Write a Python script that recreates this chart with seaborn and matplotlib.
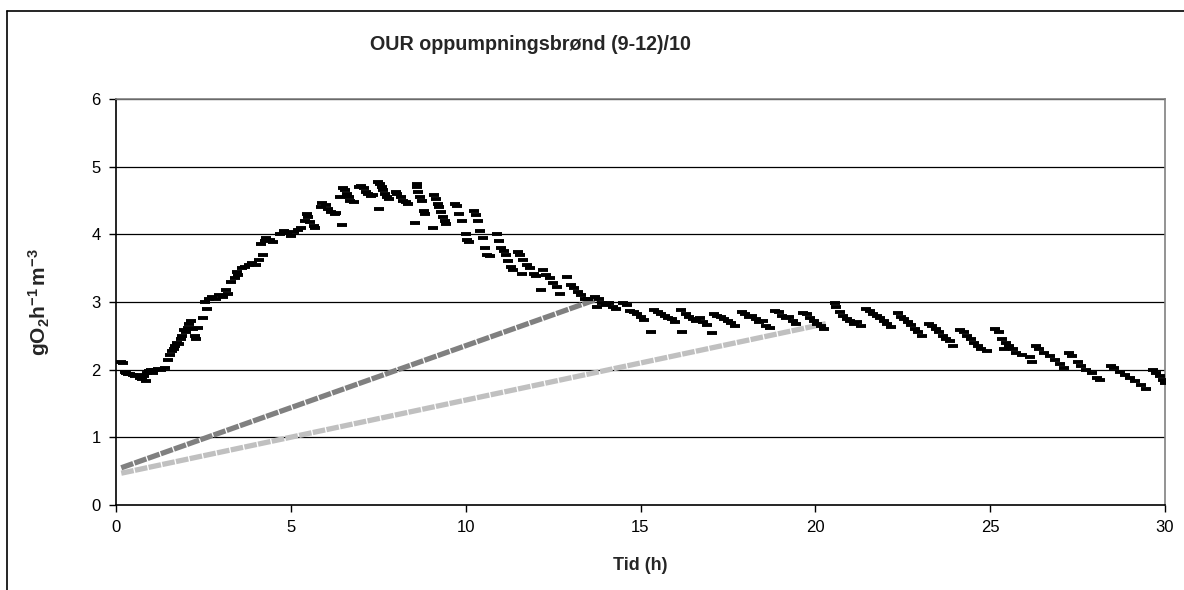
import matplotlib
matplotlib.use("Agg")
import matplotlib.pyplot as plt
from matplotlib.lines import Line2D
import seaborn as sns
import pandas as pd

# ---- data -------------------------------------------------------------
t_our = [0.15, 0.2,
         0.25, 0.3, 0.35, 0.4, 0.5, 0.55, 0.6, 0.7, 0.75, 0.8, 0.85, 0.9, 0.95, 1.0, 1.05, 1.1, 1.2, 1.3, 1.4,
         1.5, 1.55, 1.6, 1.65, 1.7, 1.75, 1.8,
         1.85, 1.9, 1.95, 2.0, 2.05, 2.1, 2.15, 2.2, 2.25, 2.3, 2.35,
         2.5, 2.6,
         2.55, 2.65, 2.75, 2.85, 2.95, 3.05, 3.15, 3.2,
         3.3, 3.4, 3.45, 3.5, 3.6, 3.7, 3.8, 3.9,
         4.0, 4.1, 4.2,
         4.15, 4.25, 4.3, 4.4, 4.5,
         4.7, 4.8, 4.9, 5.0, 5.1, 5.2,
         5.3, 5.4, 5.45, 5.5, 5.55, 5.65, 5.7,
         5.85, 5.9, 6.0, 6.05, 6.15, 6.25, 6.3, 6.45,
         6.4, 6.5, 6.55, 6.6, 6.65, 6.7, 6.8,
         6.95, 7.0, 7.1, 7.15, 7.2, 7.3, 7.35,
         7.5, 7.55, 7.6, 7.65, 7.7, 7.75, 7.8, 7.52,
         8.0, 8.05, 8.15, 8.2, 8.3, 8.35,
         8.6, 8.62, 8.65, 8.7, 8.75, 8.8, 8.85, 8.54,
         9.1, 9.15, 9.2, 9.25, 9.3, 9.35, 9.4, 9.45, 9.08,
         9.7, 9.75, 9.8, 9.9, 10.0, 10.05, 10.1,
         10.25, 10.3, 10.35, 10.4, 10.5, 10.55, 10.6, 10.7,
         10.9, 10.95, 11.0, 11.1, 11.15, 11.2, 11.3, 11.35,
         11.5, 11.55, 11.65, 11.75, 11.85, 11.95, 12.0, 11.6,
         12.2, 12.3, 12.4, 12.5, 12.6, 12.7, 12.15,
         12.9, 13.0, 13.1, 13.2, 13.3, 13.4, 13.5,
         13.7, 13.8, 13.9, 14.0, 14.1, 14.2, 14.3, 13.75,
         14.5, 14.6, 14.7, 14.8, 14.9, 15.0, 15.1,
         15.3, 15.4, 15.5, 15.6, 15.7, 15.8, 15.9, 16.0,
         16.2, 16.15, 16.3, 16.4, 16.5, 16.6, 16.7, 16.8, 16.9,
         17.05, 17.1, 17.2, 17.3, 17.4, 17.5, 17.6, 17.7,
         17.9, 18.0, 18.1, 18.2, 18.3, 18.4, 18.5, 18.6, 18.7,
         18.85, 18.95, 19.05, 19.15, 19.25, 19.35, 19.45,
         19.65, 19.75, 19.85, 19.95, 20.05, 20.15, 20.25,
         20.55, 20.6, 20.7, 20.8, 20.9, 21.0, 21.1, 21.2, 21.3,
         21.45, 21.55, 21.65, 21.75, 21.85, 21.95, 22.05, 22.15,
         22.35, 22.45, 22.55, 22.65, 22.75, 22.85, 22.95, 23.05,
         23.25, 23.35, 23.45, 23.55, 23.65, 23.75, 23.85, 23.95,
         24.15, 24.25, 24.35, 24.45, 24.55, 24.65, 24.75, 24.9,
         25.15, 25.25, 25.35, 25.45, 25.55, 25.65, 25.75, 25.9, 25.4,
         26.15, 26.2, 26.3, 26.4, 26.55, 26.7, 26.85, 27.0, 27.1,
         27.25, 27.35, 27.5, 27.6, 27.75, 27.9, 28.05, 28.15,
         28.45, 28.55, 28.7, 28.85, 29.0, 29.15, 29.3, 29.45,
         29.65, 29.75, 29.85, 29.95, 30.0]

our = [2.12, 2.10,
       1.97, 1.95, 1.93, 1.94, 1.92, 1.90, 1.92, 1.88, 1.86, 1.90, 1.83, 1.95, 1.98, 2.00, 1.95, 2.00, 2.01, 2.00, 2.02,
       2.15, 2.22, 2.27, 2.30, 2.35, 2.40, 2.38,
       2.45, 2.50, 2.58, 2.55, 2.62, 2.68, 2.72, 2.60, 2.50, 2.45, 2.62,
       2.76, 2.90,
       3.00, 3.05, 3.07, 3.05, 3.10, 3.08, 3.18, 3.12,
       3.30, 3.35, 3.45, 3.40, 3.50, 3.52, 3.55, 3.57,
       3.55, 3.62, 3.70,
       3.85, 3.90, 3.95, 3.92, 3.88,
       4.00, 4.05, 4.02, 3.98, 4.03, 4.07,
       4.10, 4.20, 4.30, 4.25, 4.18, 4.12, 4.10,
       4.40, 4.47, 4.43, 4.38, 4.33, 4.30, 4.32, 4.14,
       4.55, 4.68, 4.65, 4.60, 4.55, 4.50, 4.48,
       4.70, 4.72, 4.68, 4.62, 4.60, 4.57, 4.58,
       4.78, 4.75, 4.70, 4.65, 4.60, 4.55, 4.52, 4.38,
       4.62, 4.60, 4.55, 4.50, 4.48, 4.45,
       4.75, 4.70, 4.62, 4.55, 4.50, 4.35, 4.30, 4.17,
       4.58, 4.52, 4.45, 4.40, 4.33, 4.25, 4.20, 4.15, 4.10,
       4.45, 4.42, 4.30, 4.20, 4.00, 3.92, 3.88,
       4.35, 4.28, 4.20, 4.05, 3.95, 3.80, 3.70, 3.68,
       4.00, 3.90, 3.80, 3.75, 3.70, 3.60, 3.52, 3.48,
       3.74, 3.70, 3.62, 3.55, 3.50, 3.42, 3.38, 3.42,
       3.47, 3.40, 3.35, 3.28, 3.22, 3.12, 3.18,
       3.37, 3.25, 3.20, 3.15, 3.10, 3.05, 3.04,
       3.08, 3.05, 2.98, 2.95, 2.98, 2.92, 2.90, 2.92,
       2.98, 2.95, 2.87, 2.85, 2.82, 2.78, 2.74,
       2.56, 2.88, 2.85, 2.82, 2.80, 2.77, 2.75, 2.70,
       2.56, 2.88, 2.83, 2.78, 2.75, 2.72, 2.76, 2.70, 2.66,
       2.54, 2.83, 2.80, 2.78, 2.75, 2.72, 2.69, 2.65,
       2.85, 2.82, 2.78, 2.80, 2.75, 2.70, 2.72, 2.65, 2.62,
       2.87, 2.85, 2.80, 2.76, 2.78, 2.72, 2.68,
       2.84, 2.82, 2.76, 2.72, 2.68, 2.64, 2.60,
       2.98, 2.92, 2.85, 2.80, 2.75, 2.72, 2.68, 2.70, 2.65,
       2.90, 2.87, 2.83, 2.80, 2.76, 2.72, 2.68, 2.63,
       2.84, 2.78, 2.75, 2.70, 2.66, 2.60, 2.55, 2.50,
       2.68, 2.64, 2.60, 2.55, 2.50, 2.45, 2.42, 2.35,
       2.58, 2.55, 2.50, 2.45, 2.40, 2.35, 2.30, 2.27,
       2.60, 2.55, 2.45, 2.40, 2.35, 2.30, 2.25, 2.22, 2.30,
       2.18, 2.12, 2.35, 2.30, 2.25, 2.20, 2.15, 2.08, 2.02,
       2.25, 2.20, 2.12, 2.05, 2.00, 1.95, 1.88, 1.84,
       2.05, 2.02, 1.97, 1.92, 1.88, 1.83, 1.77, 1.72,
       2.00, 1.95, 1.90, 1.85, 1.80]

# straight reference lines (end points)
t_dark = [0.15, 13.8]
y_dark = [0.55, 3.05]
t_light = [0.15, 20.3]
y_light = [0.47, 2.68]

x_ticks = [0, 5, 10, 15, 20, 25, 30]
y_ticks = [0, 1, 2, 3, 4, 5, 6]

title = "OUR oppumpningsbrønd (9-12)/10"
xlabel = "Tid (h)"
ylabel = r"$\mathbf{gO_2h^{-1}\,m^{-3}}$"

# ---- style ------------------------------------------------------------
sns.set_theme(style="white")
plt.rcParams["font.family"] = ["Liberation Sans", "DejaVu Sans"]
plt.rcParams["mathtext.fontset"] = "custom"
plt.rcParams["mathtext.rm"] = "Liberation Sans"
plt.rcParams["mathtext.bf"] = "Liberation Sans:bold"
plt.rcParams["mathtext.it"] = "Liberation Sans:italic"
plt.rcParams["axes.unicode_minus"] = False

W, H = 1184, 590
fig = plt.figure(figsize=(W / 100, H / 100), dpi=100)
ax = fig.add_axes([116 / W, 1 - 505 / H, (1165 - 116) / W, (505 - 99) / H])

df_our = pd.DataFrame({"t": t_our, "v": our})
df_dark = pd.DataFrame({"t": t_dark, "v": y_dark})
df_light = pd.DataFrame({"t": t_light, "v": y_light})

sns.lineplot(data=df_light, x="t", y="v", ax=ax, color="#c0c0c0", lw=3.8,
             linestyle=(0, (2.4, 0.25)), estimator=None, zorder=3)
sns.lineplot(data=df_dark, x="t", y="v", ax=ax, color="#808080", lw=3.8,
             linestyle=(0, (2.4, 0.25)), estimator=None, zorder=3)
sns.scatterplot(data=df_our, x="t", y="v", ax=ax, marker="_", s=48,
                color="black", edgecolor="black", linewidth=2.8, zorder=4)

ax.set_xlim(0, 30)
ax.set_ylim(0, 6)
ax.set_xticks(x_ticks)
ax.set_yticks(y_ticks)
ax.set_xticklabels([str(v) for v in x_ticks])
ax.set_yticklabels([str(v) for v in y_ticks])

for y in y_ticks[1:]:
    ax.axhline(y, color="black", lw=0.9, zorder=1)

for side in ["top", "right"]:
    ax.spines[side].set_color("#808080")
    ax.spines[side].set_linewidth(1.2)
for side in ["left", "bottom"]:
    ax.spines[side].set_color("black")
    ax.spines[side].set_linewidth(1.2)

ax.tick_params(axis="both", which="major", direction="out", length=5, width=1,
               color="black", labelsize=12, labelcolor="black", pad=6,
               bottom=True, left=True)

ax.set_xlabel(xlabel, fontsize=13, fontweight="bold", labelpad=16)
ax.set_ylabel(ylabel, fontsize=15, labelpad=28)
fig.text(530 / W, 1 - 44 / H, title, ha="center", va="center",
         fontsize=14.2, fontweight="bold")

# outer chart border
fig.add_artist(Line2D([7 / W, 7 / W], [0, 1 - 11 / H], color="black", lw=1.2,
                      transform=fig.transFigure))
fig.add_artist(Line2D([7 / W, 1], [1 - 11 / H, 1 - 11 / H], color="black", lw=1.2,
                      transform=fig.transFigure))

fig.savefig("out.png", dpi=100, facecolor="white")
